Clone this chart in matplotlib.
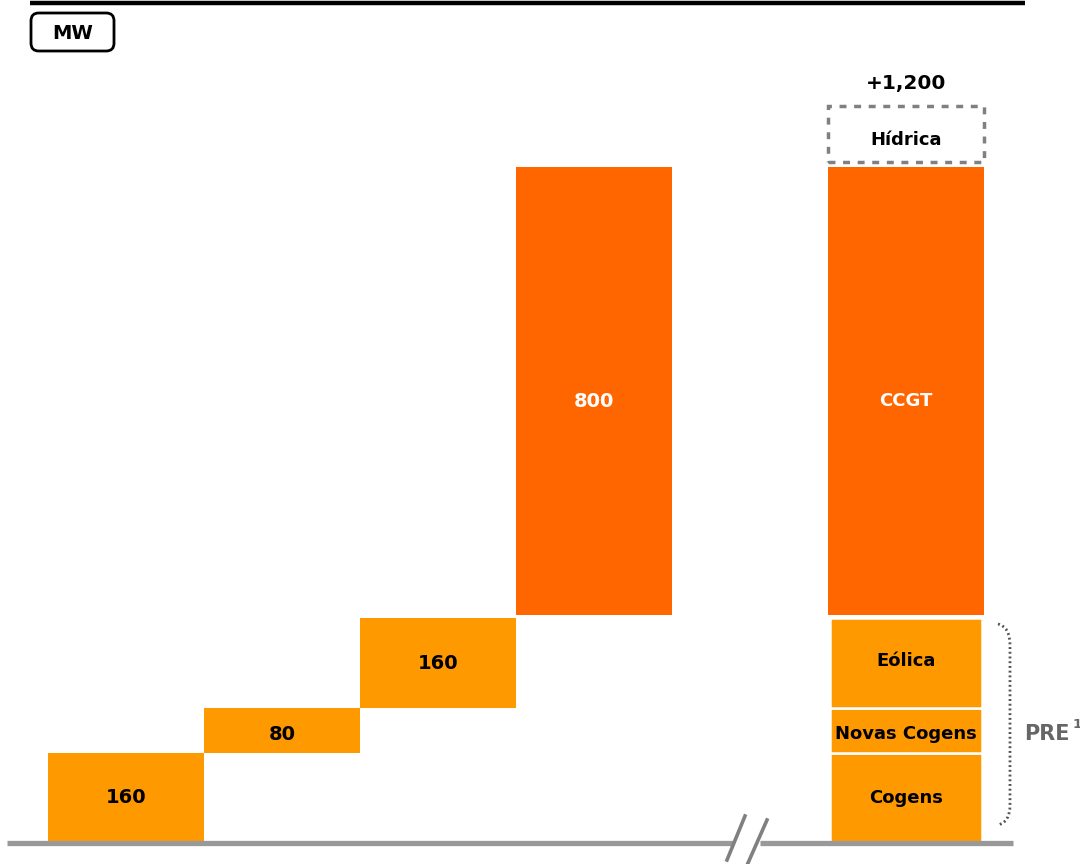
import matplotlib
matplotlib.use("Agg")
import matplotlib.pyplot as plt
from matplotlib.patches import FancyBboxPatch, Rectangle
from matplotlib.path import Path
from matplotlib.patches import PathPatch
import numpy as np

# ---- data ----
steps = [160, 80, 160, 800]
step_labels = ["160", "80", "160", "800"]
stack_names = ["Cogens", "Novas Cogens", "Eólica", "CCGT"]
stack_values = [160, 80, 160, 800]
hidrica_value = 100
total_label = "+1,200"
unit_label = "MW"
group_label = "PRE"

LIGHT = "#FF9900"
DARK = "#FF6600"
GRAY = "#999999"

# label vertical nudges in pixels (downwards), layout only
step_nudge = [0, 4, 1, 9]
stack_nudge = [0, 4, -2, 9]

fig = plt.figure(figsize=(10.8, 8.64), dpi=100)
ax = fig.add_axes([0, 0, 1, 1])
ax.set_axis_off()

px_x = 156.0          # pixels per x unit
px_y = 0.5633         # pixels per y unit
x0_px = 126.0
base_px = 843.0
ax.set_xlim(-x0_px / px_x, (1080 - x0_px) / px_x)
ax.set_ylim(-(864 - base_px) / px_y, base_px / px_y)

def X(px):
    return (px - x0_px) / px_x

def Y(py):
    return (base_px - py) / px_y

def label(x, y, s, nudge, **kw):
    ax.annotate(s, (x, y), xytext=(0, -nudge * 0.72), textcoords="offset points",
                ha="center", va="center", fontweight="bold", **kw)

# waterfall bars
bottoms = np.concatenate([[0], np.cumsum(steps)[:-1]])
xs = np.arange(len(steps))
colors = [LIGHT, LIGHT, LIGHT, DARK]
for x, b, v, c, lab, nd in zip(xs, bottoms, steps, colors, step_labels, step_nudge):
    gap = 5 if c == DARK else 0
    ax.bar(x, v - gap, bottom=b + gap, width=1.0, color=c, edgecolor="none")
    tc = "white" if c == DARK else "black"
    label(x, b + v / 2, lab, nd, fontsize=14, color=tc)

# stacked bar
sx = 5
sb = np.concatenate([[0], np.cumsum(stack_values)[:-1]])
for name, b, v, nd in zip(stack_names, sb, stack_values, stack_nudge):
    if name == "CCGT":
        ax.bar(sx, v - 5, bottom=b + 5, width=1.0, color=DARK, edgecolor="none")
        label(sx, b + v / 2, name, nd, fontsize=13, color="white")
    else:
        ax.bar(sx, v, bottom=b, width=0.975, color=LIGHT, edgecolor="white",
               linewidth=1.8)
        label(sx, b + v / 2, name, nd, fontsize=13, color="black")

total = sum(stack_values)
# Hídrica dashed box
hb = total + 9
ax.add_patch(Rectangle((sx - 0.5, hb), 1.0, hidrica_value, fill=False,
                       edgecolor="#808080", linestyle=(0, (2, 2.2)), linewidth=2.5))
label(sx, hb + hidrica_value / 2, "Hídrica", 6, fontsize=13, color="black")
label(sx, hb + hidrica_value + 40, total_label, 0, fontsize=14.5, color="black")

# baseline with break
ax.plot([X(7), X(733)], [0, 0], color=GRAY, lw=3.8, solid_capstyle="butt")
ax.plot([X(760), X(1013)], [0, 0], color=GRAY, lw=3.8, solid_capstyle="butt")
ax.plot([X(727), X(745)], [Y(860), Y(816)], color="#808080", lw=2.6)
ax.plot([X(748), X(767)], [Y(863), Y(820)], color="#808080", lw=2.6)

# brace (dotted)
verts = [(X(998), Y(624)), (X(1010), Y(627)), (X(1010), Y(645)),
         (X(1010), Y(805)), (X(1010), Y(822)), (X(998), Y(825))]
codes = [Path.MOVETO, Path.CURVE3, Path.CURVE3, Path.LINETO, Path.CURVE3, Path.CURVE3]
ax.add_patch(PathPatch(Path(verts, codes), fill=False, edgecolor="#555555",
                       linestyle=(0, (0.7, 1.0)), linewidth=2.0))
ax.text(X(1024), Y(734), group_label, ha="left", va="center", fontsize=15,
        fontweight="bold", color="#666666")
ax.text(X(1073), Y(724), "1", ha="left", va="center", fontsize=9.5,
        fontweight="bold", color="#666666")

# top line
ax.plot([X(30), X(1025)], [Y(3), Y(3)], color="black", lw=3.2, solid_capstyle="butt")

# MW box
ax.add_patch(FancyBboxPatch((X(31), Y(51)), X(114) - X(31), Y(13) - Y(51),
                            boxstyle="round,pad=0,rounding_size=0.05",
                            mutation_aspect=(px_x / px_y),
                            fill=False, edgecolor="black", linewidth=2))
ax.text(X(72.5), Y(33), unit_label, ha="center", va="center", fontsize=14,
        fontweight="bold", color="black")

fig.savefig("out.png", dpi=100)
